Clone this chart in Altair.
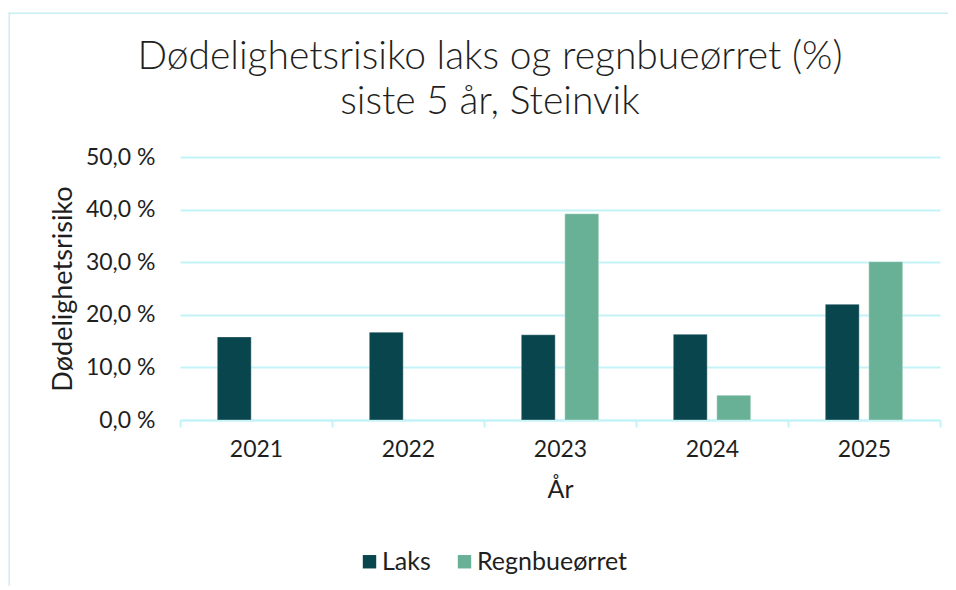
import altair as alt
import pandas as pd

years = ["2021", "2022", "2023", "2024", "2025"]
laks = [15.8, 16.7, 16.2, 16.3, 22.0]
regnbue = [None, None, 39.2, 4.7, 30.1]
series = ["Laks", "Regnbueørret"]
colors = ["#08454c", "#68b196"]
title_lines = ["Dødelighetsrisiko laks og regnbueørret (%)", "siste 5 år, Steinvik"]

rows = []
for i, y in enumerate(years):
    if laks[i] is not None:
        rows.append({"År": y, "Art": series[0], "Verdi": laks[i]})
    if regnbue[i] is not None:
        rows.append({"År": y, "Art": series[1], "Verdi": regnbue[i]})
df = pd.DataFrame(rows)

FONT = "Lato"
CYAN = "#c3f3f7"
TXT = "#1f1f1f"

bars = alt.Chart(df).mark_bar(stroke="#ffffff", strokeOpacity=0.35, strokeWidth=1).encode(
    x=alt.X("År:N", sort=years,
            scale=alt.Scale(domain=years, paddingInner=0, paddingOuter=0),
            axis=alt.Axis(title="År", tickBand="extent", labelAngle=0,
                          labelFontSize=23, labelColor=TXT, labelPadding=11,
                          labelFont=FONT, titleFont=FONT, titleFontSize=25,
                          titleFontWeight="normal", titleColor=TXT, titlePadding=16,
                          domainColor=CYAN, domainWidth=2, tickColor=CYAN,
                          tickWidth=2, tickSize=7, grid=False)),
    xOffset=alt.XOffset("Art:N", sort=series,
                        scale=alt.Scale(domain=series, paddingInner=0.22, paddingOuter=0.857)),
    y=alt.Y("Verdi:Q", scale=alt.Scale(domain=[0, 50]),
            axis=alt.Axis(title="Dødelighetsrisiko", values=[0, 10, 20, 30, 40, 50],
                          labelExpr="replace(format(datum.value, '.1f'), '.', ',') + ' %'",
                          labelFontSize=23, labelColor=TXT, labelFont=FONT, labelPadding=25,
                          titleFont=FONT, titleFontSize=27, titleFontWeight="normal",
                          titleColor=TXT, titlePadding=8,
                          domain=False, ticks=False, grid=True, gridColor=CYAN, gridWidth=2)),
    color=alt.Color("Art:N", sort=series,
                    scale=alt.Scale(domain=series, range=colors),
                    legend=alt.Legend(title=None, orient="none", direction="horizontal",
                                      legendX=177, legendY=392,
                                      symbolType="square", symbolSize=180,
                                      symbolStrokeWidth=0,
                                      labelFont=FONT, labelFontSize=25, labelColor=TXT,
                                      columnPadding=21, labelOffset=0)),
)

one = pd.DataFrame({"a": [0]})
border_top = alt.Chart(one).mark_rect(fill="#c8f0f3", strokeWidth=0).encode(
    x=alt.value(-171.5), x2=alt.value(768), y=alt.value(-144.5), y2=alt.value(-143))
border_left = alt.Chart(one).mark_rect(fill="#c8f0f3", strokeWidth=0).encode(
    x=alt.value(-171.5), x2=alt.value(-170), y=alt.value(-144.5), y2=alt.value(433))

title1 = alt.Chart(one).mark_text(
    text=title_lines[0], font=FONT, fontSize=39, fontWeight=300, color=TXT,
    align="center", baseline="alphabetic"
).encode(x=alt.value(310), y=alt.value(-88))
title2 = alt.Chart(one).mark_text(
    text=title_lines[1], font=FONT, fontSize=39, fontWeight=300, color=TXT,
    align="center", baseline="alphabetic"
).encode(x=alt.value(310), y=alt.value(-43))

chart = alt.layer(border_top, border_left, title1, title2, bars).properties(
    width=760, height=263,
    autosize=alt.AutoSizeParams(type="none"),
    padding={"left": 172, "top": 149, "right": 8, "bottom": 166},
).configure_view(stroke=None)

chart.save("out.html", embed_options={"renderer": "svg", "actions": False})
